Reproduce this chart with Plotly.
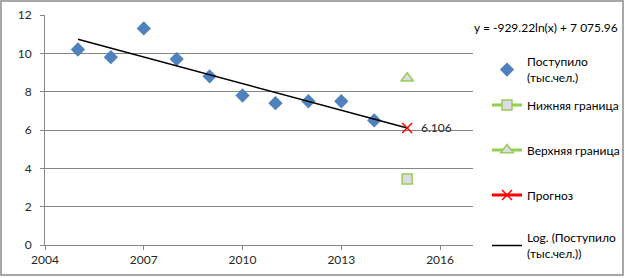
import numpy as np
import plotly.graph_objects as go

years = [2005, 2006, 2007, 2008, 2009, 2010, 2011, 2012, 2013, 2014]
admitted = [10.2, 9.8, 11.3, 9.7, 8.8, 7.8, 7.4, 7.5, 7.5, 6.5]
forecast_year = [2015]
lower_bound = [3.45]
upper_bound = [8.7]
forecast = [6.106]
x_ticks = [2004, 2007, 2010, 2013, 2016]
y_ticks = [0, 2, 4, 6, 8, 10, 12]

# logarithmic trendline (least squares on ln(x)), extended to the forecast year
coef = np.polyfit(np.log(years), admitted, 1)
trend_x = np.linspace(years[0], forecast_year[0], 50)
trend_y = coef[0] * np.log(trend_x) + coef[1]

FONT = "Lato"
FS = 12
W, H = 625, 278
L, R, T, B = 45, 152, 15, 33
pw, ph = W - L - R, H - T - B


def leg(ycenter_px):
    return dict(xref="container", yref="container", x=487 / W, y=1 - ycenter_px / H,
                xanchor="left", yanchor="middle", bgcolor="rgba(0,0,0,0)",
                font=dict(family=FONT, size=FS, color="black"))


fig = go.Figure()
fig.add_trace(go.Scatter(x=years, y=admitted, mode="markers", name="Поступило<br>(тыс.чел.)",
                         marker=dict(symbol="diamond", size=11, color="#4F81BD"),
                         legend="legend"))
fig.add_trace(go.Scatter(x=forecast_year, y=lower_bound, mode="lines+markers", name="Нижняя граница",
                         line=dict(color="#92D050", width=3),
                         marker=dict(symbol="square", size=10, color="#DCDCE8",
                                     line=dict(color="#9BCB59", width=1.5)),
                         legend="legend2"))
fig.add_trace(go.Scatter(x=forecast_year, y=upper_bound, mode="lines+markers", name="Верхняя граница",
                         line=dict(color="#92D050", width=3),
                         marker=dict(symbol="triangle-up", size=11, color="#DCDCE8",
                                     line=dict(color="#9BCB59", width=1.5)),
                         legend="legend3"))
fig.add_trace(go.Scatter(x=trend_x, y=trend_y, mode="lines", name="Log. (Поступило<br>(тыс.чел.))",
                         line=dict(color="black", width=1.5),
                         legend="legend5"))
fig.add_trace(go.Scatter(x=forecast_year, y=forecast, mode="lines+markers", name="Прогноз",
                         line=dict(color="#FF0000", width=3),
                         marker=dict(symbol="x-thin", size=10, color="#FF0000",
                                     line=dict(color="#FF0000", width=1.5)),
                         legend="legend4"))

fig.add_annotation(x=forecast_year[0], y=forecast[0], text=f"{forecast[0]:.3f}", showarrow=False,
                   xanchor="left", yanchor="middle", xshift=12,
                   font=dict(family=FONT, size=FS, color="#262626"))
fig.add_annotation(xref="paper", yref="paper", x=(472 - L) / pw, y=(H - B - 27) / ph,
                   text="y = -929.22ln(x) + 7 075.96", showarrow=False,
                   xanchor="left", yanchor="middle",
                   font=dict(family=FONT, size=FS, color="black"))

fig.add_shape(type="rect", xref="paper", yref="paper",
              x0=(1 - L) / pw, x1=(623 - L) / pw, y0=(H - B - 275) / ph, y1=(H - B - 1) / ph,
              line=dict(color="#8C8C8C", width=1.5))

fig.update_layout(
    width=W, height=H,
    margin=dict(l=L, r=R, t=T, b=B, autoexpand=False),
    paper_bgcolor="white", plot_bgcolor="white",
    font=dict(family=FONT, size=FS, color="#262626"),
    showlegend=True,
    legend=leg(70), legend2=leg(105), legend3=leg(150), legend4=leg(195), legend5=leg(246),
    xaxis=dict(range=[2004, 2017], tickvals=x_ticks, showgrid=False, zeroline=False,
               showline=True, linecolor="#868686", linewidth=1,
               ticks="outside", ticklen=4, tickcolor="#868686"),
    yaxis=dict(range=[0, 12], tickvals=y_ticks, showgrid=True, gridcolor="#868686", gridwidth=1,
               zeroline=False, showline=True, linecolor="#868686", linewidth=1,
               ticks="outside", ticklen=4, tickcolor="#868686", ticklabelstandoff=6),
)
fig.write_html("out.html", config={"displayModeBar": False},
               post_script="document.body.style.margin='0';document.body.style.overflow='hidden';")
